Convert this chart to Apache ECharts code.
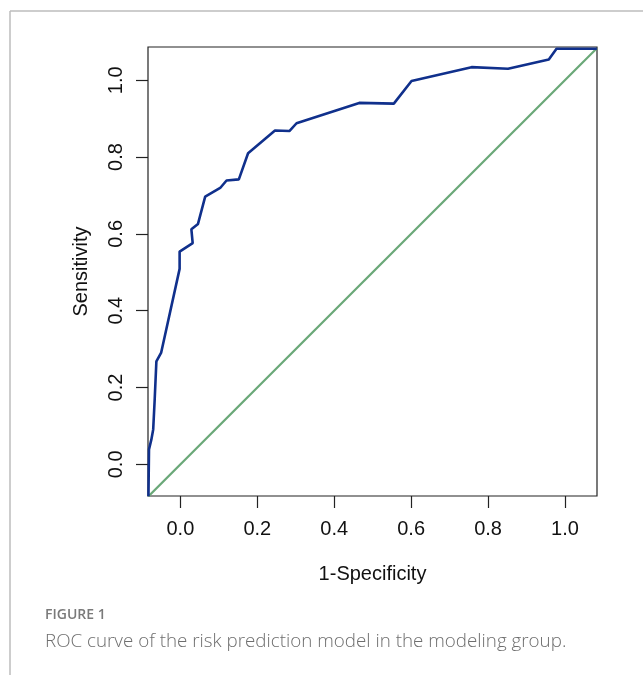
<!DOCTYPE html>
<html>
<head>
<meta charset="utf-8">
<script src="https://cdn.jsdelivr.net/npm/echarts@6/dist/echarts.min.js"></script>
<style>
  html, body { margin: 0; padding: 0; background: #fff; }
  #chart { width: 643px; height: 675px; }
</style>
</head>
<body>
<div id="chart"></div>
<script>
// ROC curve points: 1-Specificity (x) and Sensitivity (y)
const rocX = [-0.083, -0.0816, -0.0754, -0.0707, -0.0668, -0.0624, -0.0499, -0.002, -0.002, 0.032, 0.0286, 0.0458, 0.0645, 0.1035, 0.120, 0.152, 0.176, 0.246, 0.284, 0.302, 0.465, 0.555, 0.601, 0.757, 0.852, 0.958, 0.978, 1.083];
const rocY = [-0.083, 0.039, 0.065, 0.091, 0.169, 0.268, 0.291, 0.509, 0.554, 0.576, 0.612, 0.626, 0.697, 0.7195, 0.739, 0.742, 0.810, 0.869, 0.868, 0.888, 0.941, 0.939, 0.998, 1.034, 1.030, 1.054, 1.082, 1.082];
// Reference diagonal
const diagX = [-0.083, 1.083];
const diagY = [-0.083, 1.083];
// Tick labels
const tickValues = [0, 0.2, 0.4, 0.6, 0.8, 1.0];
const xTitle = '1-Specificity';
const yTitle = 'Sensitivity';
const figLabel = 'FIGURE 1';
const caption = 'ROC curve of the risk prediction model in the modeling group.';

const rocData = rocX.map((x, i) => [x, rocY[i]]);
const diagData = diagX.map((x, i) => [x, diagY[i]]);

const chart = echarts.init(document.getElementById('chart'), null, { renderer: 'canvas' });
const axisFont = "'Liberation Sans', Arial, sans-serif";
const capFont = "'Open Sans', sans-serif";

chart.setOption({
  animation: false,
  backgroundColor: '#fff',
  grid: {
    left: 148, top: 47, width: 449, height: 449,
    show: true, borderColor: '#222', borderWidth: 1.2, backgroundColor: 'transparent'
  },
  xAxis: {
    type: 'value', min: -0.0842, max: 1.0833,
    name: xTitle, nameLocation: 'middle', nameGap: 68,
    nameTextStyle: { fontSize: 20, color: '#111', fontFamily: axisFont },
    axisLine: { show: false, onZero: false },
    splitLine: { show: false },
    axisTick: { show: true, inside: false, length: 12, customValues: tickValues, lineStyle: { color: '#222', width: 1.2 } },
    axisLabel: { show: true, margin: 23, customValues: tickValues, fontSize: 20, color: '#111', fontFamily: axisFont,
      formatter: v => v.toFixed(1) }
  },
  yAxis: {
    type: 'value', min: -0.0823, max: 1.0865,
    name: yTitle, nameLocation: 'middle', nameGap: 57, nameRotate: 90,
    nameTextStyle: { fontSize: 20, color: '#111', fontFamily: axisFont },
    axisLine: { show: false, onZero: false },
    splitLine: { show: false },
    axisTick: { show: true, inside: false, length: 12, customValues: tickValues, lineStyle: { color: '#222', width: 1.2 } },
    axisLabel: { show: true, margin: 22, rotate: 90, customValues: tickValues, fontSize: 20, color: '#111', fontFamily: axisFont,
      formatter: v => v.toFixed(1) }
  },
  series: [
    {
      type: 'line', data: diagData, showSymbol: false, silent: true,
      lineStyle: { color: '#6aa878', width: 2.2 }, z: 2
    },
    {
      type: 'line', data: rocData, showSymbol: false, silent: true,
      lineStyle: { color: '#10308c', width: 2.6 }, z: 3
    }
  ],
  graphic: [
    { type: 'line', shape: { x1: 10, y1: 11, x2: 643, y2: 11 }, style: { stroke: '#bdbdbd', lineWidth: 1.5 } },
    { type: 'line', shape: { x1: 10, y1: 11, x2: 10, y2: 675 }, style: { stroke: '#bdbdbd', lineWidth: 1.5 } },
    { type: 'text', left: 45, top: 608, style: { text: figLabel, fill: '#7a7a7a', fontSize: 14, fontWeight: 600, fontFamily: capFont } },
    { type: 'text', left: 45, top: 632, style: { text: caption, fill: '#6e6e6e', fontSize: 18.8, fontWeight: 300, fontFamily: capFont } }
  ]
});
</script>
</body>
</html>
